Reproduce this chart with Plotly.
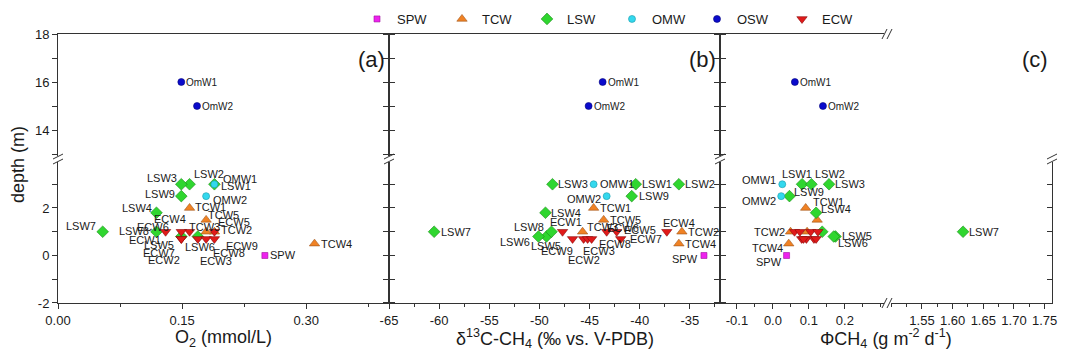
import plotly.graph_objects as go

# ---------------- data ----------------
SPW_names = ["SPW"]
SPW_depth = [0.0]
SPW_o2 = [0.25]
SPW_d13c = [-33.6]
SPW_flux = [0.038]

TCW_names = ["TCW1", "TCW2", "TCW3", "TCW4", "TCW5"]
TCW_depth = [2.0, 1.0, 1.0, 0.5, 1.5]
TCW_o2 = [0.159, 0.189, 0.179, 0.31, 0.179]
TCW_d13c = [-44.6, -35.8, -45.7, -36.1, -43.6]
TCW_flux = [0.091, 0.049, 0.095, 0.044, 0.123]

LSW_names = ["LSW1", "LSW2", "LSW3", "LSW4", "LSW5", "LSW6", "LSW7", "LSW8", "LSW9"]
LSW_depth = [3.0, 3.0, 3.0, 1.8, 0.8, 0.8, 1.0, 1.0, 2.5]
LSW_o2 = [0.189, 0.159, 0.149, 0.119, 0.149, 0.169, 0.054, 0.119, 0.149]
LSW_d13c = [-40.4, -36.1, -48.7, -49.4, -49.3, -50.1, -60.5, -48.8, -40.8]
LSW_flux = [0.081, 0.107, 0.156, 0.120, 0.174, 0.169, 1.617, 0.137, 0.046]

OMW_names = ["OMW1", "OMW2"]
OMW_depth = [3.0, 2.5]
OMW_o2 = [0.189, 0.179]
OMW_d13c = [-44.6, -43.3]
OMW_flux = [0.026, 0.023]

OSW_names = ["OmW1", "OmW2"]
OSW_depth = [16.0, 15.0]
OSW_o2 = [0.149, 0.168]
OSW_d13c = [-43.7, -45.1]
OSW_flux = [0.061, 0.139]

ECW_names = ["ECW1", "ECW2", "ECW3", "ECW4", "ECW5", "ECW6", "ECW7", "ECW8", "ECW9"]
ECW_depth = [1.0, 0.7, 0.7, 1.0, 1.0, 1.0, 0.7, 0.7, 0.7]
ECW_o2 = [0.130, 0.149, 0.169, 0.159, 0.189, 0.149, 0.149, 0.179, 0.189]
ECW_d13c = [-47.7, -45.6, -45.2, -37.3, -42.3, -43.3, -41.9, -44.8, -46.7]
ECW_flux = [0.060, 0.080, 0.093, 0.075, 0.105, 0.125, 0.114, 0.120, 0.085]

x_titles = ["O<sub>2</sub> (mmol/L)",
            "δ<sup>13</sup>C-CH<sub>4</sub> (‰ vs. V-PDB)",
            "ΦCH<sub>4</sub> (g m<sup>-2</sup> d<sup>-1</sup>)"]
panel_tags = ["(a)", "(b)", "(c)"]

# ---------------- styles ----------------
FONT = "Arial, 'Liberation Sans', sans-serif"
INK = "#1a1a1a"
groups = [
    dict(name="SPW", names=SPW_names, depth=SPW_depth, vals=[SPW_o2, SPW_d13c, SPW_flux],
         symbol="square", size=6, color="#EE22EE", line="#A010A0"),
    dict(name="TCW", names=TCW_names, depth=TCW_depth, vals=[TCW_o2, TCW_d13c, TCW_flux],
         symbol="triangle-up", size=9, color="#F08224", line="#A0541A"),
    dict(name="LSW", names=LSW_names, depth=LSW_depth, vals=[LSW_o2, LSW_d13c, LSW_flux],
         symbol="diamond", size=9, color="#2FD62F", line="#168A16"),
    dict(name="OMW", names=OMW_names, depth=OMW_depth, vals=[OMW_o2, OMW_d13c, OMW_flux],
         symbol="circle", size=7, color="#33D8EE", line="#1A9AAA"),
    dict(name="OSW", names=OSW_names, depth=OSW_depth, vals=[OSW_o2, OSW_d13c, OSW_flux],
         symbol="circle", size=7, color="#0A0ACC", line="#05057A"),
    dict(name="ECW", names=ECW_names, depth=ECW_depth, vals=[ECW_o2, ECW_d13c, ECW_flux],
         symbol="triangle-down", size=9, color="#E01A1A", line="#8A0A0A"),
]

# label placement: (xanchor, xshift px, yshift px)
LBL = [
    {  # panel a
        "LSW7": ("right", -5, 6), "LSW8": ("right", -5, 1), "LSW4": ("right", -2, 5),
        "LSW9": ("right", -4, 2), "LSW3": ("right", -2, 6), "LSW2": ("left", 2, 10),
        "LSW1": ("left", 5, -2), "OMW1": ("left", 7, 5), "OMW2": ("left", 5, -4),
        "TCW1": ("left", 3, 1), "TCW5": ("left", 0, 5), "TCW3": ("left", -19, 5),
        "TCW2": ("left", 5, 2), "TCW4": ("left", 4, 0), "SPW": ("left", 3, 0),
        "ECW1": ("right", -3, -8), "ECW6": ("right", -10, 5), "ECW4": ("right", -2, 13),
        "ECW5": ("left", 2, 10), "LSW5": ("right", -5, -9), "ECW7": ("right", -4, -14),
        "ECW2": ("right", 1, -21), "LSW6": ("left", -15, -11), "ECW3": ("left", 0, -22),
        "ECW8": ("left", 5, -14), "ECW9": ("left", 10, -7),
        "OmW1": ("left", 3, 0), "OmW2": ("left", 3, 0),
    },
    {  # panel b
        "LSW7": ("left", 5, 0), "LSW3": ("left", 4, 0), "OMW1": ("left", 4, 0),
        "LSW1": ("left", 4, 0), "LSW2": ("left", 4, 0), "OMW2": ("right", -4, -3),
        "LSW9": ("left", 5, 0), "TCW1": ("left", 4, 0), "LSW4": ("left", 4, 0),
        "TCW5": ("left", 4, 0), "TCW3": ("left", 2, 5), "TCW2": ("left", 4, 0),
        "TCW4": ("left", 4, 0), "SPW": ("right", -4, -4), "LSW8": ("right", -5, 5),
        "LSW6": ("right", -6, -6), "LSW5": ("center", 0, -10), "ECW1": ("center", 3, 10),
        "ECW9": ("center", -16, -12), "ECW2": ("center", 0, -21), "ECW3": ("center", 11, -12),
        "ECW8": ("left", 5, -5), "ECW6": ("left", -2, 4), "ECW5": ("left", 5, 2),
        "ECW7": ("left", 7, 0), "ECW4": ("center", 12, 9),
        "OmW1": ("left", 3, 0), "OmW2": ("left", 3, 0),
    },
    {  # panel c
        "OMW1": ("right", -4, 4), "LSW1": ("center", -5, 10), "LSW2": ("left", 2, 10),
        "LSW3": ("left", 4, 0), "OMW2": ("right", -3, -5), "LSW9": ("left", 3, 4),
        "TCW1": ("left", 5, 6), "LSW4": ("left", 3, 4), "TCW2": ("right", -4, 0),
        "TCW4": ("right", -4, -4), "SPW": ("right", -3, -7), "LSW5": ("left", 4, 0),
        "LSW6": ("left", 2, -7), "LSW7": ("left", 4, 0),
        "OmW1": ("left", 3, 0), "OmW2": ("left", 3, 0),
    },
]

# ---------------- geometry ----------------
L, R, T, B = 58, 1052, 34, 303
W, H = R - L, B - T
def px2x(px): return (px - L) / W
def px2y(py): return (B - py) / H

Y_UP = [12.9, 18.0]
Y_LO = [-2.0, 3.95]
dom_up = [px2y(T + (Y_UP[1] - Y_UP[0]) * 24.0), 1.0]
dom_lo = [0.0, px2y(B - (Y_LO[1] - Y_LO[0]) * 23.75)]

X_A = [0.0, 0.4]
X_B = [-65.0, -32.0]
X_CL = [-0.147, 0.317]
X_CR = [1.493, 1.762]
C_SPLIT = 1.0

xdoms = {
    "a": [0.0, px2x(389)],
    "b": [px2x(389), px2x(720)],
    "cL": [px2x(720), px2x(887)],
    "cR": [px2x(887), 1.0],
}
# axis ids: (lower, upper)
ids = {"a": (1, 2), "b": (3, 4), "cL": (5, 6), "cR": (7, 8)}

layout = dict(
    width=1068, height=360,
    margin=dict(l=L, r=1068 - R, t=T, b=360 - B, autoexpand=False),
    paper_bgcolor="white", plot_bgcolor="white",
    font=dict(family=FONT, size=13, color=INK),
    showlegend=True,
    legend=dict(orientation="h", x=px2x(357), y=px2y(19), xanchor="left", yanchor="middle",
                entrywidth=40, entrywidthmode="pixels", font=dict(size=13, family=FONT),
                bgcolor="rgba(0,0,0,0)", traceorder="normal", itemsizing="trace"),
)

def axname(kind, i):
    return f"{kind}axis" + ("" if i == 1 else str(i))

def ref(kind, i):
    return kind + ("" if i == 1 else str(i))

line_common = dict(showline=True, linecolor="#333", linewidth=1, showgrid=False,
                   zeroline=False, tickcolor="#333", tickfont=dict(size=13, family=FONT, color=INK))

xticks = {
    "a": dict(range=X_A, tickvals=[0.0, 0.15, 0.30], ticktext=["0.00", "0.15", "0.30"],
              minor=dict(ticks="outside", ticklen=3, tickcolor="#333", dtick=0.075, tick0=0)),
    "b": dict(range=X_B, tickvals=[-65, -60, -55, -50, -45, -40, -35],
              ticktext=["-65", "-60", "-55", "-50", "-45", "-40", "-35"],
              minor=dict(ticks="outside", ticklen=3, tickcolor="#333", dtick=2.5, tick0=-65)),
    "cL": dict(range=X_CL, tickvals=[-0.1, 0.0, 0.1, 0.2], ticktext=["-0.1", "0.0", "0.1", "0.2"],
               minor=dict(ticks="outside", ticklen=3, tickcolor="#333", dtick=0.05, tick0=0)),
    "cR": dict(range=X_CR, tickvals=[1.55, 1.60, 1.65, 1.70, 1.75],
               ticktext=["1.55", "1.60", "1.65", "1.70", "1.75"],
               minor=dict(ticks="outside", ticklen=3, tickcolor="#333", dtick=0.025, tick0=1.5)),
}

ylo_ticks = dict(tickvals=[-2, -1, 0, 1, 2, 3], ticktext=["-2", " ", "0", " ", "2", " "])
yup_ticks = dict(tickvals=[13, 14, 15, 16, 17, 18], ticktext=[" ", "14", " ", "16", " ", "18"])

for key, (lo, up) in ids.items():
    xl = dict(line_common, domain=xdoms[key], anchor=ref("y", lo), ticks="outside", ticklen=5,
              **xticks[key])
    layout[axname("x", lo)] = xl
    layout[axname("x", up)] = dict(line_common, domain=xdoms[key], anchor=ref("y", up),
                                   side="top", range=xticks[key]["range"], ticks="",
                                   showticklabels=False)
    for (i, dom, rng, tk, xa) in [(lo, dom_lo, Y_LO, ylo_ticks, lo), (up, dom_up, Y_UP, yup_ticks, up)]:
        ya = dict(line_common, domain=dom, range=rng, anchor=ref("x", xa), ticklen=5, **tk)
        if key == "a":
            ya.update(ticks="outside", mirror="ticks", showticklabels=True)
        elif key == "b":
            ya.update(ticks="outside", mirror="ticks", showticklabels=False)
        elif key == "cL":
            ya.update(ticks="outside", mirror=False, showticklabels=False)
        else:
            ya.update(ticks="inside", mirror=False, side="right", showticklabels=False)
        layout[axname("y", i)] = ya

fig = go.Figure(layout=layout)

annotations = []
panels = ["a", "b", "c"]
for g in groups:
    upper = g["name"] == "OSW"
    first = True
    for pi, p in enumerate(panels):
        xs = g["vals"][pi]
        if p == "c":
            parts = [("cL", [k for k, v in enumerate(xs) if v < C_SPLIT]),
                     ("cR", [k for k, v in enumerate(xs) if v >= C_SPLIT])]
        else:
            parts = [(p, list(range(len(xs))))]
        for key, idx in parts:
            if not idx:
                continue
            lo, up = ids[key]
            ai = up if upper else lo
            fig.add_trace(go.Scatter(
                x=[xs[k] for k in idx], y=[g["depth"][k] for k in idx],
                mode="markers", name=g["name"], legendgroup=g["name"], showlegend=first,
                xaxis=ref("x", ai), yaxis=ref("y", ai),
                marker=dict(symbol=g["symbol"], size=g["size"], color=g["color"],
                            line=dict(color=g["line"], width=0.6)),
                hoverinfo="skip"))
            first = False
            for k in idx:
                nm = g["names"][k]
                if nm not in LBL[pi]:
                    continue
                anc, dx, dy = LBL[pi][nm]
                annotations.append(dict(
                    x=xs[k], y=g["depth"][k], xref=ref("x", ai), yref=ref("y", ai),
                    text=nm, showarrow=False, xanchor=anc, yanchor="middle",
                    xshift=dx, yshift=dy,
                    font=dict(family=FONT, size=10 if upper else 11, color=INK)))

centers = [(58 + 389) / 2, (389 + 720) / 2, (720 + 1052) / 2]
for c, t in zip(centers, x_titles):
    annotations.append(dict(x=px2x(c), y=px2y(338), xref="paper", yref="paper", text=t,
                            showarrow=False, xanchor="center", yanchor="middle",
                            font=dict(family=FONT, size=18, color=INK)))
for rx, t in zip([387, 718, 1050], panel_tags):
    annotations.append(dict(x=px2x(rx), y=px2y(60), xref="paper", yref="paper", text=t,
                            showarrow=False, xanchor="right", yanchor="middle",
                            font=dict(family=FONT, size=22, color=INK)))
annotations.append(dict(x=px2x(18), y=px2y(165), xref="paper", yref="paper", text="depth (m)",
                        showarrow=False, textangle=-90, xanchor="center", yanchor="middle",
                        font=dict(family=FONT, size=18, color=INK)))

shapes = []
def seg(x0, y0, x1, y1, color="#333", w=1):
    shapes.append(dict(type="line", xref="paper", yref="paper", x0=px2x(x0), y0=px2y(y0),
                       x1=px2x(x1), y1=px2y(y1), line=dict(color=color, width=w), layer="above"))

ybrk = 159
for bx in [58, 389, 720, 1052]:
    for off in (-2.5, 2.5):
        seg(bx - 5, ybrk + off + 2.5, bx + 5, ybrk + off - 2.5)
for by in [34, 303]:
    seg(884, by, 891, by, color="white", w=3)
    for off in (-2.5, 2.5):
        seg(887 + off - 2.5, by + 5, 887 + off + 2.5, by - 5)

fig.update_layout(annotations=annotations, shapes=shapes)
fig.write_html("out.html")
